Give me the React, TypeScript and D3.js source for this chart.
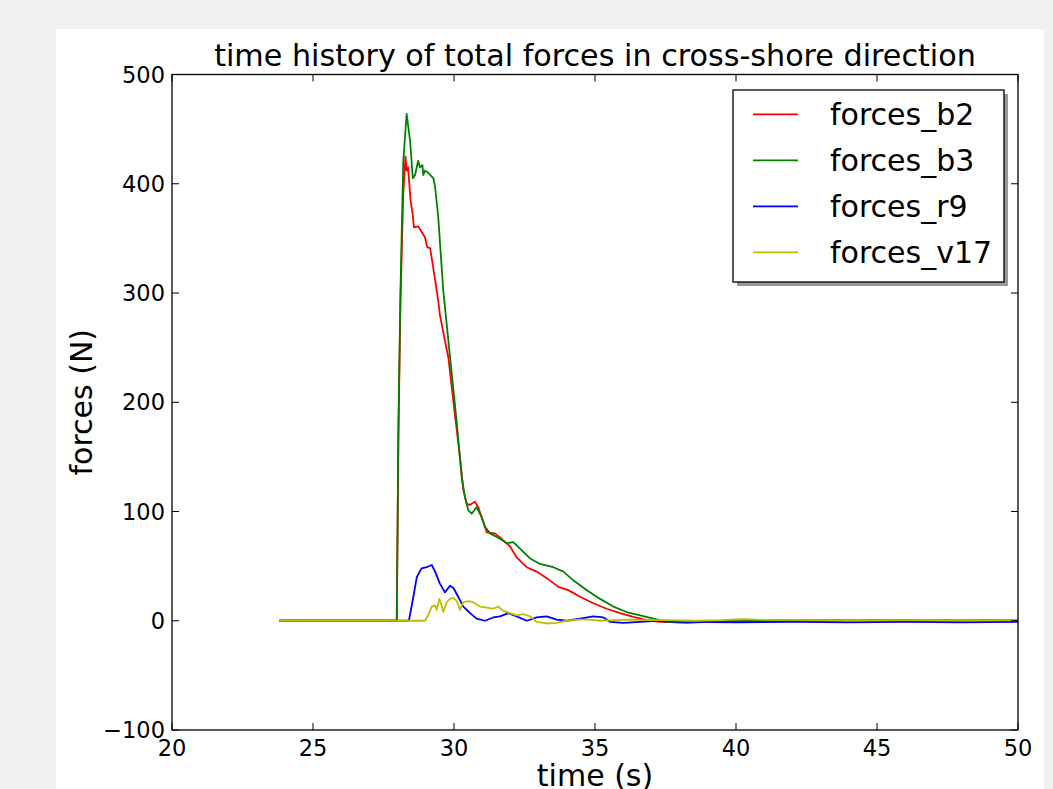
import React from "react";
import * as d3 from "d3";

const timeB2 = [23.8, 27.97, 28.03, 28.1, 28.2, 28.28, 28.32, 28.37, 28.46, 28.54, 28.58, 28.73, 28.85, 28.97, 29.05, 29.15, 29.21, 29.33, 29.44, 29.5, 29.62, 29.8, 30.04, 30.21, 30.33, 30.45, 30.55, 30.74, 30.86, 31.16, 31.45, 31.69, 31.99, 32.22, 32.58, 32.93, 33.29, 33.7, 34.05, 34.47, 34.94, 35.41, 35.89, 36.36, 36.83, 37.3, 38.0, 39.0, 40.0, 42.0, 45.0, 48.0, 50.0];
const forceB2 = [0, 0, 170, 290, 390, 425, 412, 415, 385, 371, 360, 361, 356, 351, 342, 341, 332, 312, 293, 280, 264, 241, 187, 150, 120, 107, 106, 109, 104, 81, 80, 75, 68, 58, 49, 45, 39, 31, 28, 22, 16, 11, 7, 3.6, 0.5, -1, -1.5, -1, -0.5, 0, 0.5, 0.3, 0.5];

const timeB3 = [23.8, 27.97, 28.03, 28.1, 28.2, 28.32, 28.44, 28.54, 28.62, 28.73, 28.79, 28.88, 28.91, 28.97, 29.09, 29.27, 29.33, 29.44, 29.62, 29.86, 30.1, 30.27, 30.39, 30.51, 30.63, 30.8, 30.98, 31.1, 31.28, 31.63, 31.87, 32.1, 32.34, 32.7, 33.05, 33.52, 33.88, 34.23, 34.71, 35.18, 35.65, 36.12, 36.6, 37.07, 37.54, 38.25, 39.0, 40.0, 41.0, 43.0, 46.0, 50.0];
const forceB3 = [0, 0, 180, 300, 420, 464, 440, 405, 408, 421, 415, 417, 408, 412, 410, 405, 397, 370, 302, 241, 181, 132, 113, 101, 98, 104, 95, 86, 80, 75, 71, 72, 66, 57, 52, 49, 45, 37, 28, 20, 13, 8, 5, 2, -1, -2, -1, 1, 0.3, 0.5, 0.3, 0.5];

const timeR9 = [23.8, 28.4, 28.56, 28.68, 28.85, 29.03, 29.21, 29.33, 29.5, 29.68, 29.86, 29.98, 30.15, 30.33, 30.57, 30.8, 31.1, 31.39, 31.63, 31.93, 32.22, 32.58, 32.93, 33.29, 33.64, 34.0, 34.47, 34.94, 35.3, 35.53, 36.0, 36.6, 37.19, 38.0, 40.0, 42.0, 44.0, 46.0, 48.0, 50.0];
const forceR9 = [0, 0, 22, 40, 48, 49, 51, 45, 34, 26, 32, 30, 22, 13, 7, 2, 0, 3, 4, 7, 4, 0, 3, 4, 1, 0, 2, 4, 3, -1, -2, -1, 0, -1, -1.5, -1, -1.5, -1, -1.5, -1];

const timeV17 = [23.8, 28.97, 29.1, 29.21, 29.33, 29.39, 29.48, 29.56, 29.62, 29.74, 29.86, 29.98, 30.1, 30.21, 30.33, 30.51, 30.68, 30.92, 31.16, 31.39, 31.57, 31.75, 31.99, 32.22, 32.46, 32.7, 32.93, 33.29, 33.64, 34.0, 34.47, 34.82, 35.18, 35.65, 36.24, 36.83, 37.5, 38.5, 39.5, 40.3, 41.0, 43.0, 46.0, 50.0];
const forceV17 = [0, 0, 6, 13, 14, 10, 20, 14, 8, 17, 20, 21, 18, 10, 17, 18, 17, 13, 12, 11, 13, 9, 7, 5, 6, 4, -1, -2.5, -2, 0, 1, 1, 0, 0.5, 1, 0.5, 0.5, 0, 0.5, 1.5, 0.8, 0.5, 0.5, 0.5];

const seriesNames = ["forces_b2", "forces_b3", "forces_r9", "forces_v17"];
const seriesColors = ["#ff0000", "#008000", "#0000ff", "#bfbf00"];
const seriesTimes = [timeB2, timeB3, timeR9, timeV17];
const seriesForces = [forceB2, forceB3, forceR9, forceV17];

const xTicks = [20, 25, 30, 35, 40, 45, 50];
const yTicks = [-100, 0, 100, 200, 300, 400, 500];

const titleText = "time history of total forces in cross-shore direction";
const xLabel = "time (s)";
const yLabel = "forces (N)";

const W = 1053;
const H = 789;
const plot = { left: 172, right: 1018, top: 74.5, bottom: 730 };
const font = "'DejaVu Sans', sans-serif";

const fmt = (n: number) => (n < 0 ? "\u2212" + Math.abs(n) : String(n));

export default function App() {
  const x = d3.scaleLinear().domain([20, 50]).range([plot.left, plot.right]);
  const y = d3.scaleLinear().domain([-100, 500]).range([plot.bottom, plot.top]);
  const line = d3
    .line<[number, number]>()
    .x((d) => x(d[0]))
    .y((d) => y(d[1]));

  const tickLen = 7;
  const cx = (plot.left + plot.right) / 2;
  const cy = (plot.top + plot.bottom) / 2;

  const leg = { x: 733, y: 90, w: 271, h: 192, rowY0: 114.3, rowGap: 46 };

  return (
    <svg
      width={W}
      height={H}
      style={{ position: "absolute", left: 0, top: 0, display: "block" }}
      fontFamily={font}
    >
      <rect x={0} y={0} width={W} height={H} fill="#f1f1f1" />
      <rect x={56} y={29} width={988} height={H - 29} fill="#ffffff" />

      <defs>
        <clipPath id="plotclip">
          <rect x={plot.left} y={plot.top} width={plot.right - plot.left} height={plot.bottom - plot.top} />
        </clipPath>
      </defs>

      <g clipPath="url(#plotclip)">
        {seriesNames.map((name, i) => {
          const pts = seriesTimes[i].map((t, k) => [t, seriesForces[i][k]] as [number, number]);
          return (
            <path
              key={name}
              d={line(pts) || ""}
              fill="none"
              stroke={seriesColors[i]}
              strokeWidth={1.8}
              strokeLinejoin="round"
            />
          );
        })}
      </g>

      <rect
        x={plot.left}
        y={plot.top}
        width={plot.right - plot.left}
        height={plot.bottom - plot.top}
        fill="none"
        stroke="#000"
        strokeWidth={1.3}
      />

      {xTicks.map((t) => (
        <g key={"xt" + t}>
          <line x1={x(t)} x2={x(t)} y1={plot.bottom} y2={plot.bottom - tickLen} stroke="#000" strokeWidth={1} />
          <line x1={x(t)} x2={x(t)} y1={plot.top} y2={plot.top + tickLen} stroke="#000" strokeWidth={1} />
          <text x={x(t)} y={756} fontSize={22.5} textAnchor="middle" fill="#000">
            {fmt(t)}
          </text>
        </g>
      ))}

      {yTicks.map((v) => (
        <g key={"yt" + v}>
          <line x1={plot.left} x2={plot.left + tickLen} y1={y(v)} y2={y(v)} stroke="#000" strokeWidth={1} />
          <line x1={plot.right} x2={plot.right - tickLen} y1={y(v)} y2={y(v)} stroke="#000" strokeWidth={1} />
          <text x={165} y={y(v) + 8} fontSize={22.5} textAnchor="end" fill="#000">
            {fmt(v)}
          </text>
        </g>
      ))}

      <text x={cx} y={66} fontSize={30.2} textAnchor="middle" fill="#000">
        {titleText}
      </text>

      <text x={cx} y={786} fontSize={30} textAnchor="middle" fill="#000">
        {xLabel}
      </text>
      <text
        transform={`translate(92,${cy}) rotate(-90)`}
        fontSize={30}
        textAnchor="middle"
        fill="#000"
      >
        {yLabel}
      </text>

      <rect x={leg.x + 4} y={leg.y + 4} width={leg.w} height={leg.h} fill="#999" />
      <rect x={leg.x} y={leg.y} width={leg.w} height={leg.h} fill="#fff" stroke="#000" strokeWidth={1.3} />
      {seriesNames.map((name, i) => {
        const ly = leg.rowY0 + i * leg.rowGap;
        return (
          <g key={"lg" + name}>
            <line x1={753} x2={798} y1={ly} y2={ly} stroke={seriesColors[i]} strokeWidth={1.7} />
            <text x={830} y={ly + 11} fontSize={30} fill="#000">
              {name}
            </text>
          </g>
        );
      })}
    </svg>
  );
}
